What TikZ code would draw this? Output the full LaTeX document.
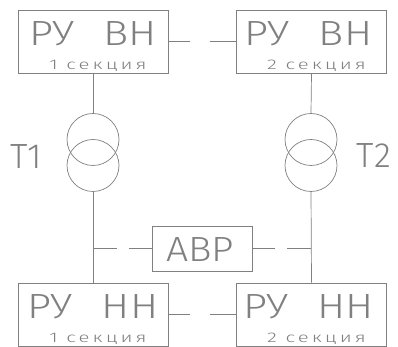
\documentclass[tikz,border=0pt]{standalone}
\usepackage{fontspec}
\setmainfont{Fira Sans Light}

\definecolor{cadgray}{RGB}{128,128,128}

\tikzset{
  rubox/.style={draw, minimum width=150pt, minimum height=63pt, inner sep=0pt},
  avrbox/.style={draw, minimum width=100pt, minimum height=45pt, inner sep=0pt},
  winding/.style={draw, circle, minimum size=52pt, inner sep=0pt},
  bigtxt/.style={font=\fontsize{35}{35}\selectfont, inner sep=0pt, anchor=base},
  sectxt/.style={font=\fontsize{14}{14}\selectfont\addfontfeature{LetterSpace=15}, xscale=1.45, inner sep=0pt, anchor=base},
  tie/.style={dash pattern=on 22pt off 20pt on 100pt off 1pt},
  avrlink/.style={dash pattern=on 24pt off 12pt on 100pt off 1pt}
}

\begin{document}
\begin{tikzpicture}[x=1pt, y=1pt, color=cadgray, line width=0.7pt]
        \useasboundingbox (0,0) rectangle (398,347);

        % switchgear sections
        \node[rubox] (vn1) at (93,305.5) { };
        \node[rubox] (vn2) at (311.5,305.5) { };
        \node[rubox] (nn1) at (93,32.5) { };
        \node[rubox] (nn2) at (311.5,32.5) { };
        \node[avrbox] (avr) at (202,98.5) { };

        % transformers
        \node[winding] (t1a) at (93,207.5) { };
        \node[winding] (t1b) at (93,181.5) { };
        \node[winding] (t2a) at (311,207.5) { };
        \node[winding] (t2b) at (311,181.5) { };

        \node[bigtxt, xscale=1.2] (vn1txt) at ([yshift=-4.5pt]vn1.center) {РУ\hspace{0.7em}ВН};
        \node[bigtxt, xscale=1.2] (vn2txt) at ([xshift=-3pt,yshift=-4.5pt]vn2.center) {РУ\hspace{0.7em}ВН};
        \node[bigtxt, xscale=1.2] (nn1txt) at ([yshift=-4.5pt]nn1.center) {РУ\hspace{0.7em}НН};
        \node[bigtxt, xscale=1.2] (nn2txt) at ([xshift=-3pt,yshift=-4.5pt]nn2.center) {РУ\hspace{0.7em}НН};
        \node[sectxt] (vn1sec) at ([xshift=5pt,yshift=-28.5pt]vn1.center) {1 секция};
        \node[sectxt] (vn2sec) at ([xshift=5pt,yshift=-28.5pt]vn2.center) {2 секция};
        \node[sectxt] (nn1sec) at ([xshift=5pt,yshift=-28.5pt]nn1.center) {1 секция};
        \node[sectxt] (nn2sec) at ([xshift=5pt,yshift=-28.5pt]nn2.center) {2 секция};
        \node[bigtxt, xscale=1.12] (avrtxt) at ([xshift=-2pt,yshift=-13.5pt]avr.center) {АВР};
        \node[bigtxt] (t1lbl) at (26,178) {T1};
        \node[bigtxt] (t2lbl) at (374,179) {T2};

        % connections
        \draw (vn1.south) -- (t1a.north);
        \draw (vn2.south) -- (t2a.north);
        \draw (t1b.south) -- (nn1.north);
        \draw (t2b.south) -- (nn2.north);
        \draw[tie] (vn1.east) -- (vn2.west);
        \draw[tie] (nn1.east) -- (nn2.west);
        \coordinate (tap1) at (t1b.south |- avr.west);
        \coordinate (tap2) at (t2b.south |- avr.east);
        \draw[avrlink] (tap1) -- (avr.west);
        \draw[avrlink] (tap2) -- (avr.east);
\end{tikzpicture}
\end{document}
